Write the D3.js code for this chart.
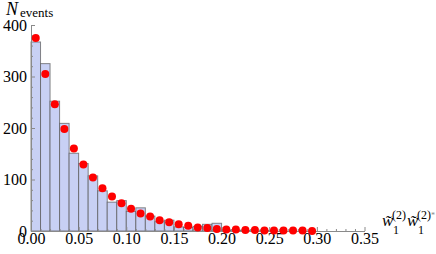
<!DOCTYPE html>
<html>
<head>
<meta charset="utf-8">
<style>
  body { margin: 0; background: #fff; }
  svg text { font-family: "Liberation Serif", "DejaVu Serif", "Times New Roman", serif; }
  .axis path, .axis line { stroke: #8a8a8a; }
</style>
<title>N events</title>
</head>
<body>
<script src="https://cdn.jsdelivr.net/npm/d3@7"></script>
<script>
// histogram bins (lower edges), bin width 0.01
var binStarts = [0.00, 0.01, 0.02, 0.03, 0.04, 0.05, 0.06, 0.07, 0.08, 0.09,
                 0.10, 0.11, 0.12, 0.13, 0.14, 0.15, 0.16, 0.17, 0.18, 0.19,
                 0.20, 0.21, 0.22, 0.23, 0.24, 0.25, 0.26, 0.27, 0.28, 0.29];
var binCounts = [367, 325, 252, 209, 151, 131, 107, 78, 56, 59,
                 38, 45, 29, 18, 21, 8, 7, 9, 13, 15,
                 2, 1, 1, 0, 1, 0, 0, 0, 0, 0];
// red points at bin centres
var pointX = [0.005, 0.015, 0.025, 0.035, 0.045, 0.055, 0.065, 0.075, 0.085, 0.095,
              0.105, 0.115, 0.125, 0.135, 0.145, 0.155, 0.165, 0.175, 0.185, 0.195,
              0.205, 0.215, 0.225, 0.235, 0.245, 0.255, 0.265, 0.275, 0.285, 0.295];
var pointY = [375, 305, 246, 198, 160, 129, 104, 83, 67, 54,
              43, 34, 28, 21, 17, 13, 10, 7, 6, 4,
              3, 3, 2, 2, 1, 1, 1, 1, 1, 0];
var xTicks = [0.00, 0.05, 0.10, 0.15, 0.20, 0.25, 0.30, 0.35];
var xMinor = [0.01, 0.02, 0.03, 0.04, 0.06, 0.07, 0.08, 0.09, 0.11, 0.12, 0.13, 0.14,
              0.16, 0.17, 0.18, 0.19, 0.21, 0.22, 0.23, 0.24, 0.26, 0.27, 0.28, 0.29,
              0.31, 0.32, 0.33, 0.34];
var yTicks = [0, 100, 200, 300, 400];
var yMinor = [20, 40, 60, 80, 120, 140, 160, 180, 220, 240, 260, 280, 320, 340, 360, 380];
var binWidth = 0.01;

var serif = "'Liberation Serif', 'DejaVu Serif', 'Times New Roman', serif";
var W = 436, H = 254;
var x = d3.scaleLinear().domain([0, 0.35]).range([31, 364.5]);
var y = d3.scaleLinear().domain([0, 400]).range([231, 25]);

var svg = d3.select("body").append("svg")
  .attr("width", W).attr("height", H);

// bars
svg.append("g").selectAll("rect").data(binStarts).enter()
  .append("rect")
  .attr("x", function(d){ return x(d); })
  .attr("width", function(d){ return x(d + binWidth) - x(d); })
  .attr("y", function(d,i){ return y(binCounts[i]); })
  .attr("height", function(d,i){ return y(0) - y(binCounts[i]); })
  .attr("fill", "#c8d0f4")
  .attr("stroke", "#555")
  .attr("stroke-opacity", 0.7)
  .attr("stroke-width", 1);

// axes (ticks point inward)
var xAxis = d3.axisBottom(x).tickValues(xTicks)
  .tickFormat(d3.format(".2f")).tickSizeInner(-4).tickSizeOuter(0).tickPadding(2);
var gx = svg.append("g").attr("class", "axis")
  .attr("transform", "translate(0," + y(0) + ")").call(xAxis);
gx.attr("font-family", null).attr("font-size", null);
gx.selectAll("text").attr("fill", "#000").style("font-family", serif).style("font-size", "16px");
svg.append("g").attr("class", "axis")
  .attr("transform", "translate(0," + y(0) + ")")
  .call(d3.axisBottom(x).tickValues(xMinor).tickFormat("").tickSizeInner(-2).tickSizeOuter(0))
  .select(".domain").remove();

var yAxis = d3.axisLeft(y).tickValues(yTicks)
  .tickSizeInner(-4).tickSizeOuter(0).tickPadding(4);
var gy = svg.append("g").attr("class", "axis")
  .attr("transform", "translate(" + x(0) + ",0)").call(yAxis);
gy.attr("font-family", null).attr("font-size", null);
gy.selectAll("text").attr("fill", "#000").style("font-family", serif).style("font-size", "16px");
svg.append("g").attr("class", "axis")
  .attr("transform", "translate(" + x(0) + ",0)")
  .call(d3.axisLeft(y).tickValues(yMinor).tickFormat("").tickSizeInner(-2).tickSizeOuter(0))
  .select(".domain").remove();

// points
svg.append("g").selectAll("circle").data(pointX).enter()
  .append("circle")
  .attr("cx", function(d){ return x(d); })
  .attr("cy", function(d,i){ return y(pointY[i]); })
  .attr("r", 4)
  .attr("fill", "#ff0000");

// axis labels
var yl = svg.append("text").attr("x", 6).attr("y", 15);
yl.append("tspan").style("font-size", "18px").attr("font-style", "italic").text("N");
yl.append("tspan").style("font-size", "13px").attr("dx", 2).attr("dy", 2).text("events");

function wLabel(x0, star) {
  svg.append("text").attr("x", x0).attr("y", 226)
    .style("font-size", "17px").attr("font-style", "italic").text("w\u0303");
  svg.append("text").attr("x", x0 + 11).attr("y", 234)
    .style("font-size", "12px").text("1");
  var sup = svg.append("text").attr("x", x0 + 10).attr("y", 219)
    .style("font-size", "12px").text("(2)");
  if (star) sup.append("tspan").style("font-size", "8px").attr("fill", "#888").attr("dy", -1).text("*");
}
wLabel(382, false);
wLabel(407, true);
</script>
</body>
</html>
